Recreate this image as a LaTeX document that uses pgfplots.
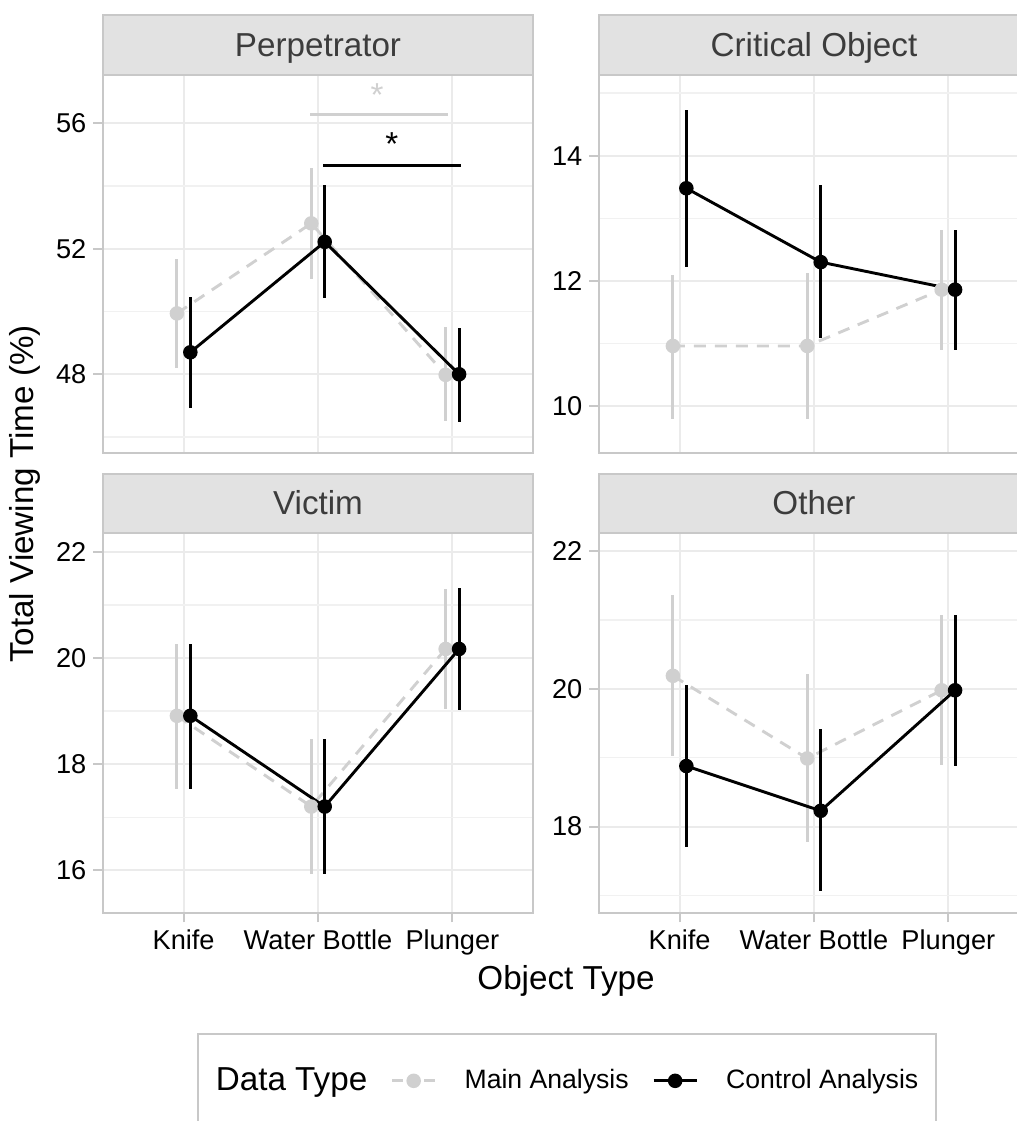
\documentclass[border=0pt]{standalone}
\usepackage{fontspec}
\setmainfont{Liberation Sans}
\usepackage{pgfplots}
\pgfplotsset{compat=1.18}
\definecolor{maingray}{HTML}{D0D0D0}
\definecolor{gridmaj}{HTML}{EBEBEB}
\definecolor{gridmin}{HTML}{F1F1F1}
\definecolor{bordergray}{HTML}{C8C8C8}
\definecolor{stripfill}{HTML}{E2E2E2}
\definecolor{striptext}{HTML}{3C3C3C}
\newcommand{\ticksize}{\fontsize{13.6}{16}\selectfont}
\newcommand{\titlesize}{\fontsize{16.6}{19.5}\selectfont}
\newcommand{\legsize}{\fontsize{13.3}{15.6}\selectfont}

\pgfplotsset{
  panel/.style={
    scale only axis, width=215pt,
    xmin=0.4, xmax=3.6, xtick={1,2,3},
    xticklabels={Knife,Water Bottle,Plunger},
    axis line style={draw=bordergray, line width=0.9pt},
    xmajorgrids, ymajorgrids, yminorgrids,
    major grid style={draw=gridmaj, line width=1.1pt},
    minor grid style={draw=gridmin, line width=0.65pt},
    tick align=outside, major tick length=4.8pt, minor tick length=0pt,
    tick style={draw=bordergray, line width=1pt},
    xtick pos=bottom, ytick pos=left,
    yticklabel style={font=\ticksize, text=black},
    xticklabel style={font=\ticksize, text=black},
    /pgf/number format/assume math mode=true,
  },
  toppanel/.style={panel, height=189pt, xticklabels={}, x tick style={draw=none}},
  botpanel/.style={panel, height=189.7pt},
  mainst/.style={maingray, line width=1.45pt, dash pattern=on 6pt off 4.5pt,
    mark=*, mark size=2.9pt, mark options={solid, fill=maingray, draw=maingray},
    error bars/y dir=both, error bars/y explicit, error bars/error mark=none,
    error bars/error bar style={line width=1.45pt, solid, maingray}},
  ctrlst/.style={black, line width=1.45pt, solid,
    mark=*, mark size=2.9pt, mark options={solid, fill=black},
    error bars/y dir=both, error bars/y explicit, error bars/error mark=none,
    error bars/error bar style={line width=1.45pt, solid, black}},
  legkey/.style={legend image code/.code={\path (-11.75pt,0pt) (35.5pt,0pt);
    \draw[mark repeat=2, mark phase=2, ##1] plot coordinates {(0pt,0pt) (10.75pt,0pt) (21.5pt,0pt)};}},
}

\begin{document}
\begin{tikzpicture}[x=0.5pt, y=0.5pt]
\useasboundingbox (0,0) rectangle (1017,1121);
\clip (0,0) rectangle (1017,1121);

% ---------------- Perpetrator ----------------
\begin{axis}[toppanel, at={(51.5pt,334pt)}, anchor=south west,
  ymin=45.49, ymax=57.54, ytick={48,52,56}, minor ytick={46,50,54}]
\addplot[mainst] coordinates {
  (0.95,49.94) +- (0,1.75)
  (1.95,52.81) +- (0,1.78)
  (2.95,47.98) += (0,1.54) -= (0,1.47)
};
\addplot[ctrlst] coordinates {
  (1.05,48.70) += (0,1.77) -= (0,1.76)
  (2.05,52.22) += (0,1.81) -= (0,1.80)
  (3.05,48.00) += (0,1.48) -= (0,1.51)
};
\addplot[maingray, line width=1.5pt, no marks] coordinates {(1.943,56.28) (2.967,56.28)};
\addplot[black, line width=1.5pt, no marks] coordinates {(2.04,54.67) (3.067,54.67)};
\node[text=maingray, font=\titlesize, anchor=base, inner sep=0pt] at (axis cs:2.44,56.55) {*};
\node[text=black, font=\titlesize, anchor=base, inner sep=0pt] at (axis cs:2.55,54.98) {*};
\end{axis}

% ---------------- Critical Object ----------------
\begin{axis}[toppanel, at={(299.5pt,334pt)}, anchor=south west,
  ymin=9.25, ymax=15.29, ytick={10,12,14}, minor ytick={11,13,15}]
\addplot[mainst] coordinates {
  (0.95,10.96) += (0,1.13) -= (0,1.17)
  (1.95,10.96) += (0,1.16) -= (0,1.17)
  (2.95,11.86) += (0,0.96) -= (0,0.97)
};
\addplot[ctrlst] coordinates {
  (1.05,13.48) += (0,1.25) -= (0,1.26)
  (2.05,12.30) += (0,1.23) -= (0,1.22)
  (3.05,11.86) += (0,0.96) -= (0,0.97)
};
\end{axis}

% ---------------- Victim ----------------
\begin{axis}[botpanel, at={(51.5pt,104.15pt)}, anchor=south west,
  ymin=15.20, ymax=22.35, ytick={16,18,20,22}, minor ytick={17,19,21}]
\addplot[mainst] coordinates {
  (0.95,18.91) += (0,1.36) -= (0,1.37)
  (1.95,17.20) += (0,1.27) -= (0,1.27)
  (2.95,20.17) += (0,1.13) -= (0,1.13)
};
\addplot[ctrlst] coordinates {
  (1.05,18.91) += (0,1.36) -= (0,1.38)
  (2.05,17.20) += (0,1.28) -= (0,1.27)
  (3.05,20.17) += (0,1.14) -= (0,1.15)
};
\end{axis}

% ---------------- Other ----------------
\begin{axis}[botpanel, at={(299.5pt,104.15pt)}, anchor=south west,
  ymin=16.75, ymax=22.26, ytick={18,20,22}, minor ytick={17,19,21},
  legend cell align=left,
  legend style={at={(rel axis cs:-0.9349,-0.3171)}, anchor=north west,
    legend columns=-1, draw=bordergray, line width=0.9pt, fill=none,
    inner xsep=9pt, inner ysep=17pt, font=\legsize,
    nodes={inner sep=0pt}}]
\addlegendimage{empty legend}
\addlegendentry{\titlesize Data Type}
\addlegendimage{maingray, line width=1.45pt, dash pattern=on 5.5pt off 10.5pt,
  mark=*, mark size=2.9pt, mark options={solid, fill=maingray, draw=maingray}, legkey}
\addlegendentry{Main Analysis}
\addlegendimage{black, line width=1.45pt, solid,
  mark=*, mark size=2.9pt, mark options={solid, fill=black}, legkey}
\addlegendentry{Control Analysis}
\addplot[forget plot, mainst] coordinates {
  (0.95,20.19) += (0,1.17) -= (0,1.17)
  (1.95,18.99) += (0,1.23) -= (0,1.21)
  (2.95,19.98) += (0,1.10) -= (0,1.08)
};
\addplot[forget plot, ctrlst] coordinates {
  (1.05,18.88) += (0,1.17) -= (0,1.17)
  (2.05,18.23) += (0,1.19) -= (0,1.17)
  (3.05,19.98) += (0,1.10) -= (0,1.10)
};
\end{axis}

% ---------------- strips ----------------
\filldraw[fill=stripfill, draw=bordergray, line width=0.9pt] (103,1046) rectangle (533,1106);
\filldraw[fill=stripfill, draw=bordergray, line width=0.9pt] (599,1046) rectangle (1029,1106);
\filldraw[fill=stripfill, draw=bordergray, line width=0.9pt] (103,587.7) rectangle (533,647);
\filldraw[fill=stripfill, draw=bordergray, line width=0.9pt] (599,587.7) rectangle (1029,647);
\node[anchor=base, text=striptext, font=\titlesize, inner sep=0pt] at (318,1064.3) {Perpetrator};
\node[anchor=base, text=striptext, font=\titlesize, inner sep=0pt] at (814,1064.3) {Critical Object};
\node[anchor=base, text=striptext, font=\titlesize, inner sep=0pt] at (318,606) {Victim};
\node[anchor=base, text=striptext, font=\titlesize, inner sep=0pt] at (814,606) {Other};

% ---------------- axis titles ----------------
\node[anchor=base, rotate=90, font=\titlesize, inner sep=0pt] at (33.3,627) {Total Viewing Time (\%)};
\node[anchor=base, font=\titlesize, inner sep=0pt] at (566,131) {Object Type};
\end{tikzpicture}
\end{document}
